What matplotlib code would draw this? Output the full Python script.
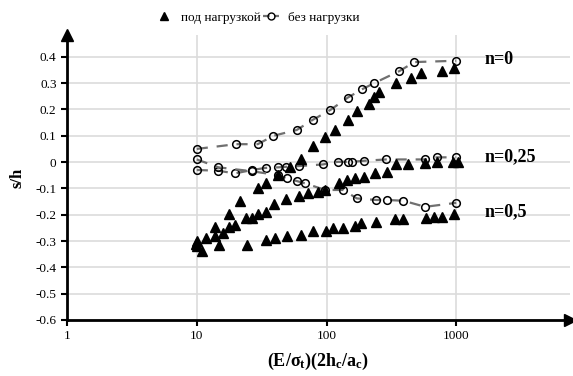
import matplotlib.pyplot as plt
from matplotlib.lines import Line2D

# triangles: под нагрузкой
x_t0 = [9.8, 11.7, 13.7, 17.7, 21.7, 29.5, 34, 42.6, 52.4, 63.4, 78.4, 98, 117, 146, 171, 214, 233, 254, 342, 449, 536, 774, 968]
y_t0 = [-0.31, -0.288, -0.248, -0.199, -0.147, -0.10, -0.079, -0.049, -0.020, 0.010, 0.061, 0.096, 0.122, 0.16, 0.194, 0.22, 0.246, 0.267, 0.299, 0.321, 0.337, 0.347, 0.356]
x_t25 = [10, 13.7, 15.8, 17.7, 19.7, 23.9, 26.8, 29.5, 34, 39.4, 48.5, 61.8, 71.7, 86.7, 98, 124, 143, 166, 195, 237, 292, 342, 428, 576, 708, 952, 1040]
y_t25 = [-0.30, -0.281, -0.269, -0.248, -0.240, -0.214, -0.214, -0.198, -0.189, -0.160, -0.142, -0.129, -0.117, -0.113, -0.106, -0.081, -0.068, -0.062, -0.058, -0.043, -0.037, -0.009, -0.009, -0.005, 0.001, 0.001, 0.001]
x_t5 = [10, 10.9, 14.9, 24.6, 34, 40.2, 49.4, 63.4, 78.4, 98.8, 113, 135, 166, 185, 241, 338, 388, 586, 676, 774, 968]
y_t5 = [-0.32, -0.337, -0.316, -0.316, -0.297, -0.290, -0.281, -0.278, -0.261, -0.261, -0.250, -0.250, -0.243, -0.233, -0.229, -0.218, -0.218, -0.214, -0.208, -0.208, -0.199]

# circles: без нагрузки
x_c0 = [10, 20, 29.5, 39, 59, 78, 107, 146, 187, 233, 365, 476, 1000]
y_c0 = [0.05, 0.068, 0.068, 0.10, 0.122, 0.16, 0.198, 0.245, 0.276, 0.30, 0.346, 0.38, 0.385]
x_c25 = [10, 14.7, 19.7, 26.8, 34, 42.6, 48.8, 61.8, 93.6, 122, 146, 157, 195, 288, 576, 708, 1000]
y_c25 = [-0.03, -0.033, -0.043, -0.030, -0.022, -0.020, -0.018, -0.015, -0.009, 0.001, 0.001, 0.001, 0.005, 0.010, 0.010, 0.018, 0.018]
x_c5 = [10, 14.7, 26.8, 42.6, 49.4, 59, 68.4, 98, 135, 171, 241, 292, 392, 576, 1000]
y_c5 = [0.01, -0.02, -0.035, -0.05, -0.062, -0.072, -0.081, -0.106, -0.106, -0.138, -0.144, -0.144, -0.147, -0.170, -0.155]

n_labels = ['n=0', 'n=0,25', 'n=0,5']
n_label_y = [0.39, 0.02, -0.19]

y_ticks = [0.4, 0.3, 0.2, 0.1, 0, -0.1, -0.2, -0.3, -0.4, -0.5, -0.6]
y_tick_labels = ['0.4', '0.3', '0.2', '0.1', '0', '-0.1', '-0.2', '-0.3', '-0.4', '-0.5', '-0.6']

plt.rcParams['font.family'] = ['Liberation Serif', 'DejaVu Serif']
plt.rcParams['mathtext.fontset'] = 'custom'
plt.rcParams['mathtext.rm'] = 'Liberation Serif'
plt.rcParams['mathtext.bf'] = 'Liberation Serif:bold'
plt.rcParams['mathtext.it'] = 'Liberation Serif:italic'

fig = plt.figure(figsize=(5.73, 3.76), dpi=100)
ax = fig.add_axes([0.117, 0.149, 0.878, 0.758])

for xs, ys in [(x_t0, y_t0), (x_t25, y_t25), (x_t5, y_t5)]:
    ax.plot(xs, ys, ls='none', marker='^', ms=6.5, color='black', zorder=4)
for xs, ys in [(x_c0, y_c0), (x_c25, y_c25), (x_c5, y_c5)]:
    ax.plot(xs, ys, ls=(0, (5, 4)), lw=1.6, color='#707070', marker='o', ms=5.5,
            mfc='none', mec='black', mew=1.1, zorder=3)

ax.set_xscale('log')
ax.set_xlim(1, 7550)
ax.set_ylim(-0.6, 0.483)
ax.set_xticks([1, 10, 100, 1000])
ax.set_xticklabels(['1', '10', '100', '1000'])
ax.minorticks_off()
ax.set_yticks(y_ticks)
ax.set_yticklabels(y_tick_labels)
ax.tick_params(labelsize=9.5, width=1.5, length=4, direction='out')
ax.grid(True, color='#dcdcdc', lw=1.2)
ax.set_axisbelow(True)

for s in ['top', 'right']:
    ax.spines[s].set_visible(False)
for s in ['left', 'bottom']:
    ax.spines[s].set_linewidth(2)
ax.plot([0], [1], marker='^', ms=9, color='black', transform=ax.transAxes, clip_on=False)
ax.plot([1], [0], marker='>', ms=9, color='black', transform=ax.transAxes, clip_on=False)

ax.set_ylabel('s/h', fontsize=12, fontweight='bold', labelpad=7)
ax.set_xlabel(r'$\mathbf{(E/\sigma_t)(2h_c/a_c)}$', fontsize=13, labelpad=6)

for lab, yy in zip(n_labels, n_label_y):
    ax.text(1650, yy, lab, fontsize=13, fontweight='bold', va='center')

handles = [Line2D([], [], ls='none', marker='^', ms=6, color='black'),
           Line2D([], [], ls=(0, (3, 2)), lw=1.6, color='#707070', marker='o', ms=5,
                  mfc='none', mec='black')]
fig.legend(handles, ['под нагрузкой', 'без нагрузки'], loc='upper center',
           bbox_to_anchor=(0.45, 1.0), ncol=2, frameon=False, fontsize=9.5,
           handlelength=1.2, columnspacing=0.2, handletextpad=0.7)

fig.savefig('out.png', dpi=100)
